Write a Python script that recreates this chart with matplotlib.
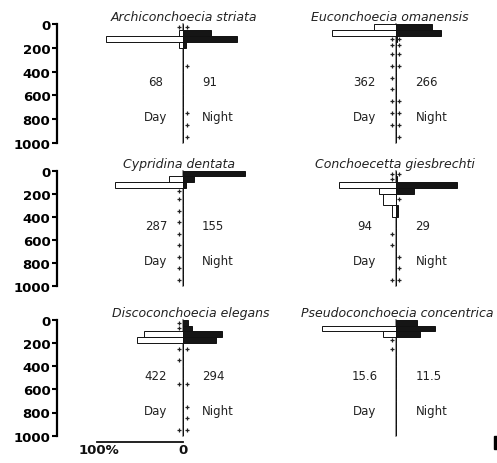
import matplotlib
matplotlib.use("Agg")
import matplotlib.pyplot as plt
from matplotlib.patches import Rectangle

# ---------------- data ----------------
strata_top = [0, 50, 100, 150, 200, 300, 400, 500, 600, 700, 800, 900]
strata_bottom = [50, 100, 150, 200, 300, 400, 500, 600, 700, 800, 900, 1000]

species = ["Archiconchoecia striata", "Euconchoecia omanensis",
           "Cypridina dentata", "Conchoecetta giesbrechti",
           "Discoconchoecia elegans", "Pseudoconchoecia concentrica"]

# percent of total abundance per stratum
day_pct = [
    [0, 5, 89, 5, 0, 0, 0, 0, 0, 0, 0, 0],
    [25, 74, 0, 0, 0, 0, 0, 0, 0, 0, 0, 0],
    [0, 16, 79, 0, 0, 0, 0, 0, 0, 0, 0, 0],
    [0, 0, 66, 19, 14, 4, 0, 0, 0, 0, 0, 0],
    [0, 0, 45, 54, 0, 0, 0, 0, 0, 0, 0, 0],
    [0, 86, 14, 0, 0, 0, 0, 0, 0, 0, 0, 0],
]
night_pct = [
    [0, 32, 63, 4, 0, 0, 0, 0, 0, 0, 0, 0],
    [42, 53, 2, 0, 0, 0, 0, 0, 0, 0, 0, 0],
    [72, 13, 3, 0, 0, 0, 0, 0, 0, 0, 0, 0],
    [0, 2, 72, 22, 0, 3, 0, 0, 0, 0, 0, 0],
    [6, 10, 45, 38, 0, 0, 0, 0, 0, 0, 0, 0],
    [25, 46, 29, 0, 0, 0, 0, 0, 0, 0, 0, 0],
]
# sampled depths with zero catch
day_zero = [
    [25],
    [125, 175, 250, 350, 450, 550, 650, 750, 850],
    [175, 250, 350, 450, 550, 650, 750, 850, 950],
    [25, 75, 550, 650, 950],
    [25, 75, 250, 350, 550, 950],
    [175, 250],
]
night_zero = [
    [25, 350, 750, 850, 950],
    [125, 175, 250, 350, 650, 750, 850, 950],
    [],
    [25, 250, 750, 850, 950],
    [250, 550, 750, 850, 950],
    [],
]
day_total = ["68", "362", "287", "94", "422", "15.6"]
night_total = ["91", "266", "155", "29", "294", "11.5"]

depth_ticks = [0, 200, 400, 600, 800, 1000]

# ---------------- layout ----------------
W, H = 497, 464
fig = plt.figure(figsize=(W / 100, H / 100), dpi=100)
fig.patch.set_facecolor("white")

rows_y = [(25, 144), (171.7, 286.7), (320.7, 436.7)]
center_x = [183, 395.5]
ppp = 0.86  # pixels per percent
title_start = [110.7, 311, 123.3, 315, 111.7, 300.7]
day_dx = [-27, -31]
night_dx = [19, 20]

txt_font = dict(family="DejaVu Sans", fontsize=8.5, color="#222222")

def fx(px):
    return px / W

for i, name in enumerate(species):
    r, c = divmod(i, 2)
    y0, y1 = rows_y[r]
    cx = center_x[c]
    if c == 0:
        xl, xr = 56.7, 290
    else:
        xl, xr = 290, 497
    ax = fig.add_axes([fx(xl), 1 - y1 / H, (xr - xl) / W, (y1 - y0) / H])
    ax.set_xlim((xl - cx) / ppp, (xr - cx) / ppp)
    ax.set_ylim(1000, 0)
    ax.patch.set_alpha(0)
    for s in ["top", "right", "bottom"]:
        ax.spines[s].set_visible(False)
    ax.set_xticks([])
    if c == 0:
        ax.spines["left"].set_linewidth(1.6)
        ax.set_yticks(depth_ticks)
        ax.set_yticklabels([str(t) for t in depth_ticks])
        ax.tick_params(axis="y", direction="out", length=3.3, width=1.5, pad=1.2,
                       labelsize=9.5)
        for lab in ax.get_yticklabels():
            lab.set_fontweight("bold")
            lab.set_family("DejaVu Sans")
    else:
        ax.spines["left"].set_visible(False)
        ax.set_yticks([])

    # center line
    ax.plot([0, 0], [0, 1000], color="#808080", lw=1.2, zorder=1, clip_on=False)

    centers = [(a + b) / 2 for a, b in zip(strata_top, strata_bottom)]
    heights = [b - a for a, b in zip(strata_top, strata_bottom)]
    dvals = [-v for v in day_pct[i]]
    ax.barh(centers, dvals, height=heights, left=0, color="white",
            edgecolor="#111111", linewidth=0.7, zorder=2)
    ax.barh(centers, night_pct[i], height=heights, left=0, color="#151515",
            edgecolor="#111111", linewidth=0.7, zorder=2)

    off = 3.6 / ppp
    if day_zero[i]:
        ax.plot([-off] * len(day_zero[i]), day_zero[i], linestyle="none",
                marker="+", markersize=3.4, mew=0.9, color="#222222", zorder=3)
    if night_zero[i]:
        ax.plot([off] * len(night_zero[i]), night_zero[i], linestyle="none",
                marker="+", markersize=3.4, mew=0.9, color="#222222", zorder=3)

    # title
    ax.text((title_start[i] - cx) / ppp, -60, name, ha="left", va="center",
            family="DejaVu Sans", style="italic", fontsize=9, color="#222222")
    # totals and labels
    ax.text(day_dx[c] / ppp, 480, day_total[i], ha="center", va="center", **txt_font)
    ax.text(night_dx[c] / ppp, 480, night_total[i], ha="left", va="center", **txt_font)
    ax.text(day_dx[c] / ppp, 780, "Day", ha="center", va="center", **txt_font)
    ax.text(night_dx[c] / ppp, 780, "Night", ha="left", va="center", **txt_font)

    if i == 4:
        ybar = (443.3 - y0) / ((y1 - y0) / 1000)
        ylab = (450.5 - y0) / ((y1 - y0) / 1000)
        ax.plot([-100, 0], [ybar, ybar], color="#111111", lw=1.3, clip_on=False)
        ax.text(-98, ylab, "100%", ha="center", va="center", family="DejaVu Sans",
                fontweight="bold", fontsize=9.5, color="#111111")
        ax.text(0, ylab, "0", ha="center", va="center", family="DejaVu Sans",
                fontweight="bold", fontsize=9.5, color="#111111")

# small black mark at bottom right
fig.patches.append(Rectangle((fx(494.3), 1 - 450 / H), 3 / W, 13.3 / H,
                             transform=fig.transFigure, color="black"))

fig.savefig("out.png", dpi=100)
